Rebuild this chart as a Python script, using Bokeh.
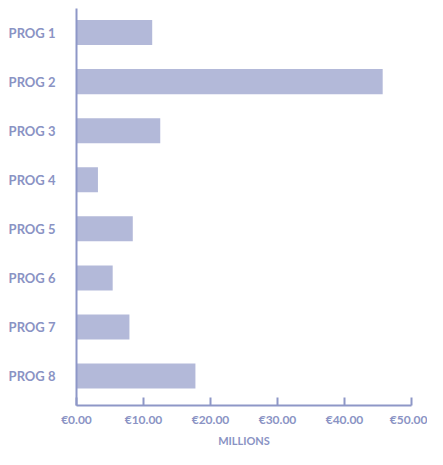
from bokeh.plotting import figure
from bokeh.models import Range1d, FixedTicker, PrintfTickFormatter
from bokeh.embed import file_html
from bokeh.resources import INLINE

programmes = ["PROG 1", "PROG 2", "PROG 3", "PROG 4", "PROG 5", "PROG 6", "PROG 7", "PROG 8"]
values = [11.3, 45.7, 12.5, 3.2, 8.4, 5.4, 7.9, 17.75]
x_ticks = [0, 10, 20, 30, 40, 50]

positions = list(range(1, len(programmes) + 1))

BAR = "#b3b9d9"
AXIS = "#8e97c7"
TEXT = "#8a93c4"
FONT = "Lato"

p = figure(width=427, height=449, output_backend="svg", toolbar_location=None,
           x_range=Range1d(0, 50), y_range=Range1d(8.6, 0.51),
           min_border_left=76, min_border_right=16, min_border_top=8, min_border_bottom=40)

p.hbar(y=positions, right=values, left=0, height=0.51, fill_color=BAR, line_color=None)

p.outline_line_color = None
p.xgrid.grid_line_color = None
p.ygrid.grid_line_color = None

# y axis
p.yaxis.ticker = FixedTicker(ticks=positions)
p.yaxis.major_label_overrides = {pos: name for pos, name in zip(positions, programmes)}
p.yaxis.major_tick_line_color = None
p.yaxis.minor_tick_line_color = None
p.yaxis.axis_line_color = AXIS
p.yaxis.axis_line_width = 2
p.yaxis.major_label_text_font = FONT
p.yaxis.major_label_text_font_style = "bold"
p.yaxis.major_label_text_font_size = "13px"
p.yaxis.major_label_text_color = TEXT
p.yaxis.major_label_standoff = 15

# x axis
p.xaxis.ticker = FixedTicker(ticks=x_ticks)
p.xaxis.formatter = PrintfTickFormatter(format="€%.2f")
p.xaxis.axis_line_color = AXIS
p.xaxis.axis_line_width = 2
p.xaxis.major_tick_line_color = AXIS
p.xaxis.major_tick_line_width = 2
p.xaxis.major_tick_in = 8
p.xaxis.major_tick_out = 0
p.xaxis.minor_tick_line_color = None
p.xaxis.major_label_text_font = FONT
p.xaxis.major_label_text_font_style = "bold"
p.xaxis.major_label_text_font_size = "12px"
p.xaxis.major_label_text_color = TEXT
p.xaxis.major_label_standoff = 6
p.xaxis.axis_label = "MILLIONS"
p.xaxis.axis_label_text_font = FONT
p.xaxis.axis_label_text_font_style = "bold"
p.xaxis.axis_label_text_font_size = "11px"
p.xaxis.axis_label_text_color = TEXT
p.xaxis.axis_label_standoff = 4

open("out.html", "w").write(file_html(p, INLINE))
